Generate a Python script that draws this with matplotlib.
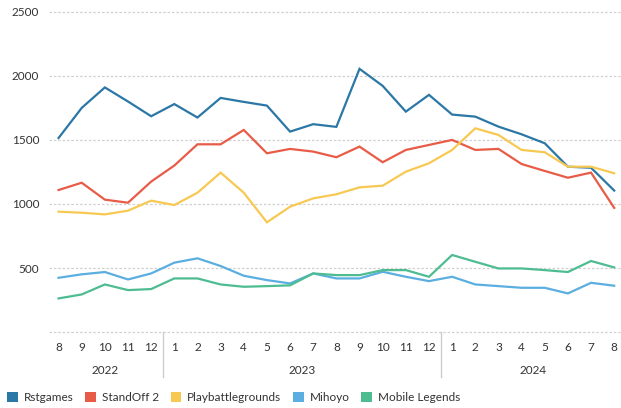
import matplotlib
matplotlib.use('Agg')
import matplotlib.pyplot as plt
from matplotlib.patches import Patch
import matplotlib.transforms as mtransforms

plt.rcParams['font.family'] = ['Lato', 'DejaVu Sans']

MONTHS = ['8', '9', '10', '11', '12',
          '1', '2', '3', '4', '5', '6', '7', '8', '9', '10', '11', '12',
          '1', '2', '3', '4', '5', '6', '7', '8']
YEARS = ['2022', '2023', '2024']
YEAR_SPANS = [(0, 4), (5, 16), (17, 24)]

rstgames = [1515, 1750, 1910, 1800, 1685, 1780, 1675, 1828, 1797, 1768, 1565, 1623,
            1602, 2055, 1922, 1721, 1852, 1698, 1682, 1604, 1544, 1474, 1291, 1283, 1105]
standoff2 = [1109, 1166, 1034, 1010, 1175, 1300, 1466, 1466, 1578, 1396, 1430, 1409,
             1365, 1448, 1326, 1422, 1461, 1500, 1422, 1430, 1312, 1258, 1205, 1245, 970]
playbattle = [940, 932, 919, 948, 1026, 992, 1088, 1245, 1088, 857, 979, 1044,
              1076, 1130, 1143, 1252, 1318, 1422, 1591, 1539, 1422, 1404, 1291, 1291, 1240]
mihoyo = [424, 451, 469, 411, 458, 542, 576, 516, 440, 406, 380, 458,
          419, 419, 471, 432, 398, 432, 372, 359, 346, 346, 302, 385, 362]
mobile_legends = [263, 294, 372, 328, 336, 419, 419, 372, 354, 359, 365, 458,
                  445, 445, 484, 484, 432, 602, 549, 497, 497, 484, 469, 555, 505]

SERIES = [
    ('Rstgames', rstgames, '#2b77a5'),
    ('StandOff 2', standoff2, '#e85c47'),
    ('Playbattlegrounds', playbattle, '#f7c952'),
    ('Mihoyo', mihoyo, '#5baee0'),
    ('Mobile Legends', mobile_legends, '#4ebc91'),
]

TEXT_COLOR = '#333333'
GRID_COLOR = '#d0d0d0'

fig = plt.figure(figsize=(6.21, 4.08), dpi=100)
ax = fig.add_axes([0.079, 0.186, 0.919, 0.785])

x = list(range(len(MONTHS)))
for name, vals, col in SERIES:
    ax.plot(x, vals, color=col, linewidth=1.6, label=name, solid_joinstyle='miter')

ax.set_xlim(-0.41, 24.24)
ax.set_ylim(0, 2500)
ax.set_yticks([500, 1000, 1500, 2000, 2500])
ax.tick_params(axis='y', length=0, pad=7, labelsize=8.5, labelcolor=TEXT_COLOR)
ax.set_xticks(x)
ax.set_xticklabels(MONTHS)
ax.tick_params(axis='x', length=0, pad=7, labelsize=8.5, labelcolor=TEXT_COLOR)

for y in [0, 500, 1000, 1500, 2000, 2500]:
    ax.axhline(y, color=GRID_COLOR, linewidth=0.9, linestyle=(0, (2, 1.5)), zorder=0, clip_on=False)
for s in ax.spines.values():
    s.set_visible(False)

# year labels and separators below the month labels
trans = mtransforms.blended_transform_factory(ax.transData, ax.transAxes)
for year, (a, b) in zip(YEARS, YEAR_SPANS):
    ax.text((a + b) / 2, -0.12, year, transform=trans, ha='center', va='center',
            fontsize=8.5, color=TEXT_COLOR)
for sep in [4.5, 16.5]:
    ax.plot([sep, sep], [0, -0.14], transform=trans, color='#cccccc', linewidth=1.0, clip_on=False)

handles = [Patch(facecolor=c, edgecolor='none') for _, _, c in SERIES]
fig.legend(handles, [n for n, _, _ in SERIES], loc='center left', bbox_to_anchor=(0.0, 0.025),
           ncol=5, frameon=False, fontsize=8.5, handlelength=0.9, handleheight=0.9,
           handletextpad=0.5, columnspacing=1.0, labelcolor=TEXT_COLOR, borderaxespad=0.2)

fig.savefig('out.png', dpi=100)
